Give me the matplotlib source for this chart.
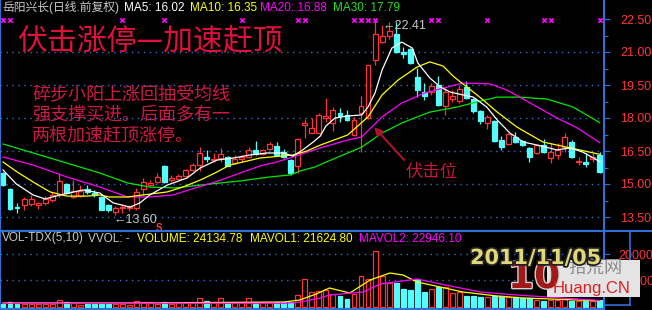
import numpy as np
import matplotlib.pyplot as plt
from matplotlib.lines import Line2D
from matplotlib.patches import Rectangle
import matplotlib.patheffects as pe

plt.rcParams['font.family'] = ['Liberation Sans', 'Noto Sans CJK SC', 'DejaVu Sans']

# 日K线数据 (开, 高, 低, 收)
opens = [15.50, 14.77, 13.95, 14.05, 14.09, 14.05, 14.14, 14.27, 14.50, 15.00,
         14.41, 14.45, 14.77, 14.59, 14.41, 14.05, 13.73, 13.91, 13.91, 13.91,
         14.77, 14.95, 15.09, 15.82, 15.18, 15.23, 15.36, 15.64, 15.86, 16.23,
         16.09, 16.18, 16.23, 15.95, 16.14, 16.23, 16.55, 16.36, 16.59, 16.73,
         16.45, 16.09, 15.82, 17.68, 17.32, 17.32, 18.00, 17.77, 18.23, 18.14,
         17.23, 18.23, 18.00, 20.64, 21.45, 21.73, 21.82, 21.00, 21.14, 19.86,
         19.18, 19.18, 19.50, 18.55, 18.86, 18.77, 19.41, 18.86, 18.32, 17.77,
         17.86, 17.00, 16.82, 17.14, 16.95, 16.64, 16.41, 16.77, 16.18, 16.32,
         16.68, 16.91, 16.00, 16.00, 16.14, 16.32]
highs = [15.55, 14.80, 14.14, 14.41, 14.50, 14.18, 14.45, 14.64, 15.50, 15.05,
         15.18, 14.95, 14.95, 14.73, 14.45, 14.10, 14.00, 14.09, 14.05, 14.82,
         15.27, 15.18, 15.50, 15.86, 15.41, 15.45, 15.70, 15.95, 16.68, 16.55,
         16.41, 16.64, 16.27, 16.32, 16.32, 16.68, 16.95, 16.60, 16.90, 16.91,
         16.59, 16.14, 17.10, 17.95, 18.00, 18.23, 18.91, 18.50, 18.45, 18.36,
         18.05, 19.00, 20.41, 22.41, 22.23, 22.36, 22.36, 21.23, 21.18, 20.27,
         19.59, 19.59, 19.91, 19.36, 19.27, 19.50, 19.68, 18.90, 18.36, 18.14,
         17.90, 17.18, 17.30, 17.36, 17.00, 16.68, 16.82, 17.05, 16.86, 16.86,
         17.32, 17.00, 16.23, 16.41, 16.41, 16.45]
lows = [14.93, 13.82, 13.68, 13.82, 14.00, 13.86, 14.05, 14.18, 14.41, 14.55,
        14.36, 14.41, 14.55, 14.41, 13.80, 13.75, 13.60, 13.68, 13.77, 13.82,
        14.50, 14.91, 15.05, 15.05, 15.09, 15.18, 15.32, 15.60, 15.59, 16.00,
        16.00, 16.00, 15.80, 15.90, 16.00, 16.18, 16.32, 16.30, 16.55, 16.27,
        16.20, 15.41, 15.50, 17.09, 17.30, 17.30, 17.82, 17.40, 17.82, 17.86,
        17.20, 16.45, 17.95, 20.41, 21.41, 21.60, 20.95, 20.73, 20.45, 18.95,
        18.82, 19.05, 18.55, 18.14, 18.73, 18.68, 18.86, 18.23, 17.73, 17.50,
        16.90, 16.55, 16.77, 16.86, 16.73, 16.00, 16.36, 16.41, 15.95, 16.14,
        16.45, 16.20, 15.86, 15.77, 16.00, 15.50]
closes = [14.95, 13.86, 13.91, 14.32, 14.32, 14.14, 14.32, 14.50, 15.14, 14.59,
          14.68, 14.68, 14.64, 14.50, 13.82, 13.82, 13.91, 13.95, 13.95, 14.64,
          15.09, 15.05, 15.32, 15.09, 15.27, 15.36, 15.64, 15.86, 16.41, 16.14,
          16.14, 16.36, 15.82, 16.14, 16.23, 16.55, 16.36, 16.55, 16.82, 16.32,
          16.23, 15.50, 17.05, 17.77, 17.55, 18.14, 18.09, 18.36, 18.09, 17.91,
          17.91, 18.55, 20.41, 21.82, 21.73, 21.95, 21.00, 20.91, 20.50, 19.27,
          19.00, 19.45, 18.59, 19.18, 19.00, 19.32, 18.91, 18.32, 17.86, 18.05,
          16.95, 16.68, 17.27, 16.91, 16.77, 16.23, 16.77, 16.45, 16.45, 16.55,
          17.14, 16.23, 16.05, 15.91, 16.23, 15.55]
volumes = [9500, 17100, 9500, 9500, 9500, 9500, 9500, 9500, 24800, 17100,
           13300, 5700, 9500, 9500, 9500, 9500, 9500, 9500, 5700, 21000,
           17100, 17100, 9500, 17100, 9500, 13300, 17100, 17100, 32400, 21000,
           17100, 32400, 17100, 17100, 17100, 32400, 17100, 17100, 17100, 17100,
           17100, 17100, 43800, 104800, 55200, 59000, 62900, 47600, 40000, 28600,
           47600, 116200, 104800, 211500, 116200, 89500, 89500, 66700, 62900, 104800,
           55200, 66700, 74300, 74300, 51400, 55200, 40000, 40000, 36200, 36200,
           40000, 40000, 36200, 36200, 32400, 32400, 24800, 21000, 24800, 24800,
           28600, 21000, 21000, 21000, 21000, 24134]

# 均线 (读图取样点: K线序号, 数值)
ma5_idx = [0, 1.9, 4.3, 6, 8.1, 11.4, 13.8, 15.7, 18.1, 19.5, 20.9, 23.4, 26.2, 28.1,
           30.5, 32.8, 35.2, 37.6, 39.9, 41.3, 42.7, 44.2, 45.2, 46, 47.3, 49.1, 51.1,
           52, 53, 54, 55.4, 56.8, 58.3, 59.1, 60.8, 62.3, 63.7, 65.5, 67, 68.9, 70.4,
           72.2, 74.1, 76.1, 78.9, 80.8, 82.6, 85]
ma5_val = [15.64, 15.00, 14.50, 14.32, 14.50, 14.73, 14.59, 14.14, 13.95, 14.14, 14.50,
           14.95, 15.27, 15.73, 16.09, 16.18, 16.32, 16.41, 16.41, 16.27, 16.55, 16.91,
           17.18, 17.64, 18.00, 18.09, 18.14, 18.50, 19.14, 20.18, 21.18, 21.45, 21.18,
           20.50, 19.82, 19.41, 19.18, 19.05, 18.95, 18.50, 17.91, 17.32, 16.91, 16.77,
           16.55, 16.64, 16.45, 16.02]
ma10_idx = [0, 2, 4.3, 6.7, 9.1, 12, 13.8, 15.2, 17.7, 19.9, 23.4, 25.6, 28.1, 30.2,
            32.3, 36.6, 41.3, 43.3, 45.2, 49.1, 52, 54, 56.3, 59, 60.8, 62.7, 64.1,
            65.5, 67, 68.4, 70.4, 73.2, 76.9, 80.8, 85]
ma10_val = [16.00, 15.55, 15.09, 14.64, 14.45, 14.45, 14.50, 14.41, 14.41, 14.50, 14.64,
            14.86, 15.18, 15.50, 15.86, 16.18, 16.32, 16.50, 16.77, 17.23, 18.05, 19.05,
            19.73, 20.32, 20.55, 20.36, 19.91, 19.55, 19.18, 18.82, 18.27, 17.59, 16.91,
            16.64, 16.35]
ma20_idx = [0, 4.3, 9.1, 13.8, 17.7, 20.9, 24.2, 27.8, 30.2, 36.6, 39, 41.3, 45.2,
            49.1, 51.1, 54, 56.8, 60.1, 65.5, 69.4, 71.8, 75.1, 78.9, 81.8, 85]
ma20_val = [16.23, 15.86, 15.32, 14.86, 14.41, 14.41, 14.50, 14.86, 15.09, 15.82, 16.00,
            16.23, 16.64, 17.00, 17.14, 18.05, 18.68, 19.14, 19.59, 19.55, 19.27, 18.68,
            18.00, 17.55, 16.88]
ma30_idx = [0, 4.3, 9.1, 13.8, 17.7, 20.9, 24.5, 29.5, 33.8, 38, 40.9, 42.3, 44.4,
            47.1, 49.1, 51.1, 54, 56.8, 59, 60.8, 64.7, 68, 70.4, 73.6, 77.5, 81.2, 85]
ma30_val = [16.82, 16.41, 15.95, 15.50, 15.05, 14.86, 14.82, 15.00, 15.14, 15.32, 15.41,
            15.59, 15.77, 16.14, 16.41, 16.68, 17.32, 17.77, 18.05, 18.27, 18.50, 18.77,
            18.95, 18.95, 18.86, 18.50, 17.79]

# 成交量均线
mavol1_idx = [0, 20, 40, 42.3, 44.6, 46.5, 49.4, 52.3, 55.1, 57, 59, 62.3, 65.5, 70.4, 74.1, 85]
mavol1_val = [13300, 13300, 17100, 24800, 47600, 70500, 51400, 101000, 127600, 120000,
              93300, 74300, 55200, 40000, 32400, 21624]
mavol2_idx = [0, 40, 42.3, 45.2, 46.5, 51.3, 53.7, 59, 62.3, 68, 73.2, 85]
mavol2_val = [12200, 12200, 17100, 32400, 43800, 55200, 85700, 104800, 85700, 55200,
              43800, 22946]

# 顶部信号标记所在K线
signal_idx = [0, 1, 17, 23, 34, 42, 43, 50, 51, 52, 53, 61, 62, 69, 77, 78, 85]

price_ticks = [13.5, 15.0, 16.5, 18.0, 19.5, 21.0, 22.5]
price_labels = ['13.50', '15.00', '16.50', '18.00', '19.50', '21.00', '22.50']
vol_ticks = [100000, 200000]
vol_labels = ['10000', '20000']

RED = '#ff3535'
CYAN = '#54fcfc'
BLUE = '#2f6fd8'
GRID = '#3070d0'
W, H = 652.0, 310.0

fig = plt.figure(figsize=(6.52, 3.10), dpi=100, facecolor='black')
ax = fig.add_axes([0, 79 / H, 604 / W, 231 / H], facecolor='black')
axv = fig.add_axes([0, 1 / H, 604 / W, 78 / H], facecolor='black')

x = np.arange(len(closes))
o = np.array(opens)
c = np.array(closes)
hi = np.array(highs)
lo = np.array(lows)
up = c >= o
body_lo = np.minimum(o, c)
body_h = np.maximum(np.abs(c - o), 0.03)

xmin, xmax = -3 / 7.02, 601 / 7.02
ax.set_xlim(xmin, xmax)
ax.set_ylim(22.5 - 212 / 22.0, 22.5 + 19 / 22.0)

# 网格虚线
ax.hlines(price_ticks[:-1], xmin, xmax, colors=GRID, lw=1, linestyles=(0, (1, 3.3)), zorder=1)

# K线
ax.vlines(x[up], lo[up], hi[up], color=RED, lw=0.9, zorder=2)
ax.vlines(x[~up], lo[~up], hi[~up], color=CYAN, lw=0.9, zorder=2)
ax.bar(x[up], body_h[up], bottom=body_lo[up], width=0.7, facecolor='black',
       edgecolor=RED, lw=0.9, zorder=3)
ax.bar(x[~up], body_h[~up], bottom=body_lo[~up], width=0.7, facecolor=CYAN,
       edgecolor=CYAN, lw=0.9, zorder=3)

# 均线
ax.plot(ma30_idx, ma30_val, color='#00e800', lw=0.9, zorder=4)
ax.plot(ma20_idx, ma20_val, color='#ff00ff', lw=0.9, zorder=4)
ax.plot(ma10_idx, ma10_val, color='#ffff00', lw=0.9, zorder=4)
ax.plot(ma5_idx, ma5_val, color='white', lw=0.9, zorder=4)

ax.scatter(signal_idx, [22.45] * len(signal_idx), marker='x', s=10, color='#ff00ff',
           linewidths=1.2, zorder=5)

# 坐标轴
ax.yaxis.tick_right()
ax.set_yticks(price_ticks)
ax.set_yticklabels(price_labels, color=RED, fontsize=9)
ax.set_yticks([14.25, 15.75, 17.25, 18.75, 20.25, 21.75], minor=True)
ax.tick_params(axis='y', which='major', length=4.5, width=0.8, color=BLUE, pad=7)
ax.tick_params(axis='y', which='minor', length=3, width=0.8, color=BLUE)
ax.set_xticks([])
ax.spines['top'].set_visible(False)
for s in ['left', 'right', 'bottom']:
    ax.spines[s].set_color(BLUE)
    ax.spines[s].set_linewidth(1.5)

# 标注
ax.text(54.0, 22.2, '←22.41', color='#c8c8c8', fontsize=9,
        family=['Liberation Sans', 'DejaVu Sans'], va='center', zorder=6)
ax.text(15.8, 13.36, '←13.60', color='#c8c8c8', fontsize=9,
        family=['Liberation Sans', 'DejaVu Sans'], va='center', zorder=6)
ax.text(22.2, 13.0, 'S', color=RED, fontsize=7, fontweight='bold', ha='center',
        va='center', zorder=6)
ax.annotate('', xy=(52.6, 17.68), xytext=(57.4, 16.0),
            arrowprops=dict(arrowstyle='-|>', color='#b01030', lw=1.5,
                            mutation_scale=12), zorder=6)

# 成交量
axv.set_xlim(xmin, xmax)
axv.set_ylim(-9525, 287655)
axv.hlines(vol_ticks, xmin, xmax, colors=GRID, lw=1, linestyles=(0, (1, 3.3)), zorder=1)
v = np.array(volumes)
axv.bar(x[up], v[up], width=0.7, facecolor='black', edgecolor=RED, lw=0.9, zorder=2)
axv.bar(x[~up], v[~up], width=0.7, facecolor=CYAN, edgecolor=CYAN, lw=0.9, zorder=2)
axv.plot(mavol1_idx, mavol1_val, color='#ffff00', lw=0.9, zorder=3)
axv.plot(mavol2_idx, mavol2_val, color='#ff00ff', lw=0.9, zorder=3)
axv.yaxis.tick_right()
axv.set_yticks(vol_ticks)
axv.set_yticklabels(vol_labels, color=RED, fontsize=9)
axv.tick_params(axis='y', length=4.5, width=0.8, color=BLUE, pad=6)
axv.set_xticks([])
for s in ['left', 'right', 'bottom', 'top']:
    axv.spines[s].set_color(BLUE)
    axv.spines[s].set_linewidth(1.5)


def fx(px):
    return px / W


def fy(py):
    return 1 - py / H


# 全宽分隔线
fig.add_artist(Line2D([0, 1], [fy(231), fy(231)], color=BLUE, lw=1.5))
fig.add_artist(Line2D([fx(630), fx(630)], [fy(231), fy(305)], color=BLUE, lw=1.2))
fig.add_artist(Line2D([fx(604), fx(630)], [fy(305), fy(305)], color=BLUE, lw=1.2))

# 顶部标题栏
hdr = [(2, '岳阳兴长(日线.前复权)', '#c8c8c8'), (124, 'MA5: 16.02', 'white'),
       (190, 'MA10: 16.35', '#ffff00'), (260, 'MA20: 16.88', '#ff00ff'),
       (333, 'MA30: 17.79', '#20e020')]
for px, t, col in hdr:
    fig.text(fx(px), fy(8), t, color=col, fontsize=8.5, va='center')

vhdr = [(2, 'VOL-TDX(5,10)', '#c8c8c8'), (88, 'VVOL: -', '#c8c8c8'),
        (137, 'VOLUME: 24134.78', '#ffff00'), (250, 'MAVOL1: 21624.80', '#ffff00'),
        (359, 'MAVOL2: 22946.10', '#ff00ff')]
for px, t, col in vhdr:
    fig.text(fx(px), fy(238.5), t, color=col, fontsize=8.5, va='center')

# 红色说明文字
fig.text(fx(17), fy(41), '伏击涨停—加速赶顶', color='#e0103c', fontsize=21.5,
         family=['Noto Sans CJK SC', 'DejaVu Sans'], va='center')
para = ['碎步小阳上涨回抽受均线', '强支撑买进。后面多有一', '两根加速赶顶涨停。']
for k, line in enumerate(para):
    fig.text(fx(32), fy(95 + 20.5 * k), line, color='#d01848', fontsize=13,
             family=['Noto Sans CJK SC', 'DejaVu Sans'], va='center')
fig.text(fx(406), fy(172), '伏击位', color='#c81440', fontsize=12.5,
         family=['Noto Sans CJK SC', 'DejaVu Sans'], va='center')

# 水印
fig.add_artist(Rectangle((fx(547), fy(297)), fx(93), 37 / H, transform=fig.transFigure,
                         facecolor='#e4e4e4', edgecolor='none', zorder=5))
fig.text(fx(508), fy(278), '10', color='#a01818', fontsize=27, fontweight='bold',
         family='DejaVu Sans', va='center', zorder=6,
         path_effects=[pe.withStroke(linewidth=2, foreground='#d0d0d0')])
fig.text(fx(568), fy(268), '拾荒网', color='#8c8c8c', fontsize=13,
         family=['Noto Sans CJK SC', 'DejaVu Sans'], va='center', zorder=6)
fig.text(fx(553), fy(288), 'Huang.CN', color='#e02020', fontsize=12, va='center', zorder=6)
fig.text(fx(470), fy(258), '2011/11/05', color='#e0d878', fontsize=15, fontweight='bold',
         family='DejaVu Sans', va='center', zorder=7,
         path_effects=[pe.withStroke(linewidth=2.5, foreground='#202020')])

fig.savefig('out.png', dpi=100, facecolor='black')
